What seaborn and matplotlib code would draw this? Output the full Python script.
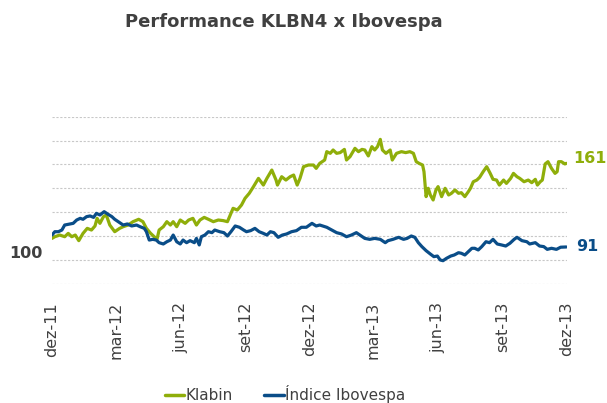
import pandas as pd
import matplotlib
matplotlib.use("Agg")
import matplotlib.pyplot as plt
import seaborn as sns

# dias corridos desde 01/12/2011 e índice base 100
klabin_dias = [0, 4, 11, 18, 23, 28, 33, 38, 44, 50, 56, 61, 64, 68, 73, 77, 82, 89, 96, 101,
               108, 115, 123, 129, 134, 140, 145, 149, 152, 158, 163, 168, 172, 177, 182, 189, 194, 200, 205, 210,
               216, 222, 229, 236, 243, 249, 253, 257, 263, 269, 274, 280, 286, 293, 300, 305, 312, 318, 320, 326,
               332, 338, 343, 348, 352, 357, 364, 371, 375, 380, 387, 390, 395, 399, 404, 409, 415, 418, 423, 430,
               435, 440, 444, 449, 454, 458, 462, 466, 469, 474, 480, 483, 489, 496, 502, 508, 513, 517, 521, 526,
               528, 531, 534, 537, 541, 545, 548, 553, 558, 563, 567, 572, 577, 581, 586, 591, 594, 598, 603, 607,
               612, 617, 622, 626, 631, 635, 641, 645, 651, 655, 660, 664, 670, 676, 681, 686, 689, 693, 696, 700,
               704, 709, 714, 717, 719, 723, 728, 730]
klabin = [98.0, 99.4, 100.8, 99.4, 102.2, 99.4, 100.8, 96.1, 102.2, 106.4, 105.0, 108.4, 114.8, 110.6, 116.2, 117.6, 109.2, 103.6, 106.4, 107.8,
          109.2, 112.0, 114.0, 112.0, 106.4, 102.2, 99.4, 97.2, 105.0, 107.8, 112.0, 109.2, 112.0, 107.8, 113.4, 110.6, 113.4, 114.8, 109.2, 113.4,
          115.6, 114.0, 112.0, 113.4, 112.9, 112.0, 117.6, 123.2, 121.8, 126.0, 131.6, 135.8, 141.4, 148.3, 142.7, 148.3, 155.3, 146.9, 142.7, 149.7,
          146.9, 149.7, 151.1, 142.7, 148.3, 158.1, 159.5, 159.5, 156.7, 160.9, 163.7, 170.7, 169.3, 172.1, 169.3, 169.9, 172.6, 163.7, 166.5, 173.5,
          170.7, 172.6, 172.1, 167.1, 174.9, 172.1, 174.9, 181.0, 172.1, 169.3, 172.1, 163.7, 169.3, 170.7, 169.9, 170.7, 169.3, 162.3, 160.9, 159.5,
          153.9, 133.0, 140.0, 134.4, 130.2, 138.6, 141.4, 133.0, 140.0, 134.4, 135.8, 138.6, 135.8, 136.3, 133.0, 137.2, 140.0, 145.5, 146.9, 149.2,
          153.9, 158.1, 152.5, 147.5, 146.9, 142.7, 146.9, 144.1, 148.3, 152.5, 149.7, 148.3, 145.5, 146.9, 144.7, 147.5, 142.7, 145.5, 146.9, 160.4,
          162.3, 156.7, 152.5, 153.9, 162.3, 162.3, 160.4, 160.9]

ibov_dias = [0, 4, 9, 14, 18, 26, 30, 35, 40, 44, 49, 54, 59, 63, 68, 74, 79, 85, 89, 96,
             101, 107, 113, 120, 125, 131, 134, 138, 143, 148, 152, 158, 163, 168, 172, 177, 182, 186, 191, 196,
             202, 205, 209, 212, 217, 222, 227, 231, 238, 244, 249, 254, 260, 266, 272, 276, 282, 288, 294, 300,
             305, 310, 315, 321, 327, 333, 340, 347, 354, 361, 369, 375, 380, 390, 397, 404, 411, 418, 425, 432,
             437, 444, 451, 458, 466, 473, 477, 484, 492, 499, 504, 510, 515, 520, 525, 531, 537, 542, 547, 551,
             555, 560, 566, 571, 577, 581, 586, 591, 596, 600, 605, 610, 616, 621, 626, 632, 638, 644, 650, 656,
             660, 667, 674, 678, 686, 692, 698, 703, 709, 716, 722, 730]
ibovespa = [100.8, 103.6, 103.6, 105.0, 109.2, 110.1, 110.6, 113.4, 114.8, 114.0, 116.2, 116.8, 115.6, 119.0, 117.6, 120.4, 118.4, 116.2, 114.0, 111.2,
            109.2, 110.1, 108.4, 109.2, 107.8, 106.4, 103.6, 96.6, 97.2, 96.6, 94.4, 93.3, 95.2, 96.6, 100.8, 95.2, 93.3, 96.6, 94.4, 96.1,
            94.4, 98.0, 92.5, 99.4, 100.8, 103.6, 102.8, 105.0, 103.6, 102.8, 100.0, 103.6, 108.4, 107.3, 105.0, 103.6, 104.5, 106.4, 103.6, 102.2,
            100.8, 103.6, 102.8, 98.9, 100.8, 101.7, 103.6, 104.5, 107.3, 107.3, 110.6, 108.4, 109.2, 107.3, 105.0, 102.8, 101.7, 99.4, 100.8, 102.8,
            100.8, 98.0, 97.2, 98.0, 97.2, 94.4, 96.1, 97.2, 98.9, 97.2, 98.0, 100.0, 98.9, 94.4, 91.1, 87.7, 84.9, 82.7, 83.2, 79.9,
            79.3, 81.3, 83.2, 84.1, 86.0, 85.5, 84.1, 86.9, 89.7, 89.7, 88.3, 91.1, 95.2, 94.4, 97.2, 93.3, 92.5, 91.6, 93.9, 97.2,
            98.9, 96.1, 95.2, 93.3, 94.4, 91.6, 91.1, 88.8, 89.7, 88.8, 90.6, 90.8]

series = ["Klabin", "Índice Ibovespa"]
cores = ["#8FAE0A", "#0A4D88"]
rotulos_x = ["dez-11", "mar-12", "jun-12", "set-12", "dez-12", "mar-13", "jun-13", "set-13", "dez-13"]
ticks_x = ["2011-12-01", "2012-03-01", "2012-06-01", "2012-09-01", "2012-12-01",
           "2013-03-01", "2013-06-01", "2013-09-01", "2013-12-01"]

base = pd.Timestamp("2011-12-01")
df = pd.concat([
    pd.DataFrame({"data": base + pd.to_timedelta(klabin_dias, unit="D"), "valor": klabin, "serie": series[0]}),
    pd.DataFrame({"data": base + pd.to_timedelta(ibov_dias, unit="D"), "valor": ibovespa, "serie": series[1]}),
])

sns.set_style("white")
plt.rcParams["font.family"] = ["DejaVu Sans"]

fig = plt.figure(figsize=(6.07, 4.03), dpi=100)
ax = fig.add_axes([0.0857, 0.296, 0.8484, 0.4144])

sns.lineplot(data=df, x="data", y="valor", hue="serie", hue_order=series,
             palette=cores, linewidth=2.3, ax=ax)

ax.set_ylim(60, 200)
ax.set_yticks(range(60, 201, 20))
ax.set_yticklabels([])
ax.set_xlim(base, pd.Timestamp("2013-12-01"))
ax.set_xticks(pd.to_datetime(ticks_x))
ax.set_xticklabels(rotulos_x, rotation=90, fontsize=11.5, color="#404040")
ax.tick_params(axis="both", length=0)
ax.tick_params(axis="x", pad=13)
ax.yaxis.grid(True, linestyle=(0, (2, 1.5)), color="#c8c8c8", linewidth=0.8)
ax.xaxis.grid(False)
ax.set_xlabel("")
ax.set_ylabel("")
for s in ax.spines.values():
    s.set_visible(False)

# rótulos de início e fim
ax.annotate("100", xy=(base, 100), xytext=(-26, -18), textcoords="offset pixels",
            ha="center", va="center", fontsize=11.5, fontweight="bold", color="#404040")
ax.annotate(f"{round(klabin[-1])}", xy=(base + pd.Timedelta(days=klabin_dias[-1]), klabin[-1]),
            xytext=(7, 5), textcoords="offset pixels", ha="left", va="center",
            fontsize=11.5, fontweight="bold", color=cores[0])
ax.annotate(f"{round(ibovespa[-1])}", xy=(base + pd.Timedelta(days=ibov_dias[-1]), ibovespa[-1]),
            xytext=(10, 0), textcoords="offset pixels", ha="left", va="center",
            fontsize=11.5, fontweight="bold", color=cores[1])

fig.suptitle("Performance KLBN4 x Ibovespa", x=284 / 607, y=1 - 22 / 403, va="center",
             fontsize=13, fontweight="bold", color="#404040")

handles, labels = ax.get_legend_handles_labels()
ax.get_legend().remove()
for h in handles:
    h.set_linewidth(2.5)
fig.legend(handles, labels, loc="center", bbox_to_anchor=(285 / 607, 1 - 394 / 403), ncol=2,
           frameon=False, fontsize=11, handlelength=1.3, handletextpad=0.1, columnspacing=2.0,
           labelcolor="#404040")

fig.savefig("out.png", dpi=100)
